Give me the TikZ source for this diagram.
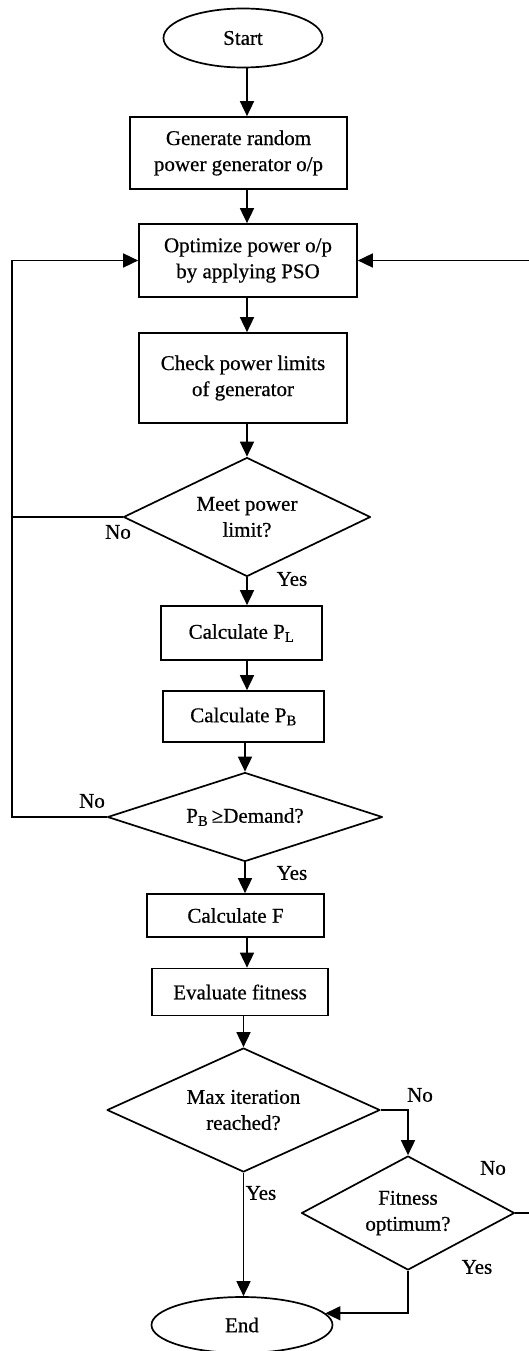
\documentclass[tikz,border=0pt]{standalone}
\usepackage{fontspec}
\setmainfont[FakeBold=0.6]{Liberation Serif}
\usetikzlibrary{shapes.geometric,arrows.meta}
\begin{document}
\begin{tikzpicture}[x=1pt,y=-1pt,
  line width=1.7pt,
  every node/.style={font=\fontsize{21}{26}\selectfont, inner sep=0pt, align=center},
  box/.style={draw, rectangle},
  term/.style={draw, ellipse},
  dec/.style={draw, diamond, line join=round},
  arr/.style={-{Triangle[length=15pt,width=14pt]}}]
\useasboundingbox (0,0) rectangle (529,1351);

\node[term, minimum width=159pt, minimum height=59pt] (start) at (243,38) {Start};
\node[box, minimum width=217pt, minimum height=72pt] (gen) at (238.5,153) {Generate random\\power generator o/p};
\node[box, minimum width=218pt, minimum height=73pt] (opt) at (248,260.5) {Optimize power o/p\\by applying PSO};
\node[box, minimum width=208pt, minimum height=90pt] (chk) at (243,378) {Check power limits\\of generator};
\node[dec, shape aspect=2.08, minimum width=247pt, minimum height=119pt] (d1) at (247,517) {Meet power\\limit?};
\node[box, minimum width=161pt, minimum height=54pt] (pl) at (241.5,633) {Calculate P\textsubscript{L}};
\node[box, minimum width=161pt, minimum height=51pt] (pb) at (243.5,716.5) {Calculate P\textsubscript{B}};
\node[dec, shape aspect=3.09, minimum width=275pt, minimum height=89pt] (d2) at (245,817) {P\textsubscript{B}\,≥Demand?};
\node[box, minimum width=177pt, minimum height=43pt] (cf) at (235.5,915.5) {Calculate F};
\node[box, minimum width=176pt, minimum height=47pt] (ev) at (240,992) {Evaluate fitness};
\node[dec, shape aspect=2.2, minimum width=273pt, minimum height=124pt] (d3) at (243.5,1110) {Max iteration\\reached?};
\node[dec, shape aspect=1.87, minimum width=213pt, minimum height=114pt] (d4) at (408,1213) {Fitness\\optimum?};
\node[term, minimum width=181pt, minimum height=56pt] (end) at (242,1325) {End};

\coordinate (ax) at (247,0);
\coordinate (L) at (12,0);
\coordinate (R) at (531,0);

\draw[arr] (start.south -| ax) -- (gen.north -| ax);
\draw[arr] (gen.south -| ax) -- (opt.north -| ax);
\draw[arr] (opt.south -| ax) -- (chk.north -| ax);
\draw[arr] (chk.south -| ax) -- (d1.north);
\draw[arr] (d1.south) -- (d1.south |- pl.north);
\draw[arr] (pl.south -| ax) -- (pb.north -| ax);
\draw[arr] (pb.south -| d2.north) -- (d2.north);
\draw[arr] (d2.south) -- (d2.south |- cf.north);
\draw[arr] (cf.south -| ax) -- (ev.north -| ax);
\draw[arr] (ev.south -| d3.north) -- (d3.north);
\draw[arr] (d3.south) -- (d3.south |- end.north);

\draw (d1.west) -- (d1.west -| L);
\draw[arr] (d2.west) -| (L |- opt.west) -- (opt.west);
\draw[arr] (d3.east) -- (d3.east -| d4.north) -- (d4.north);
\draw[arr] (d4.east) -- (d4.east -| R) -- (R |- opt.east) -- (opt.east);
\draw[arr] (d4.south) |- (end.8);

\node (n1) at (118,532) {No};
\node (y1) at (292,579) {Yes};
\node (n2) at (92,801) {No};
\node (y2) at (292,873) {Yes};
\node (n3) at (420,1095) {No};
\node (y3) at (261,1193) {Yes};
\node (n4) at (493,1168) {No};
\node (y4) at (477,1267) {Yes};
\end{tikzpicture}
\end{document}
